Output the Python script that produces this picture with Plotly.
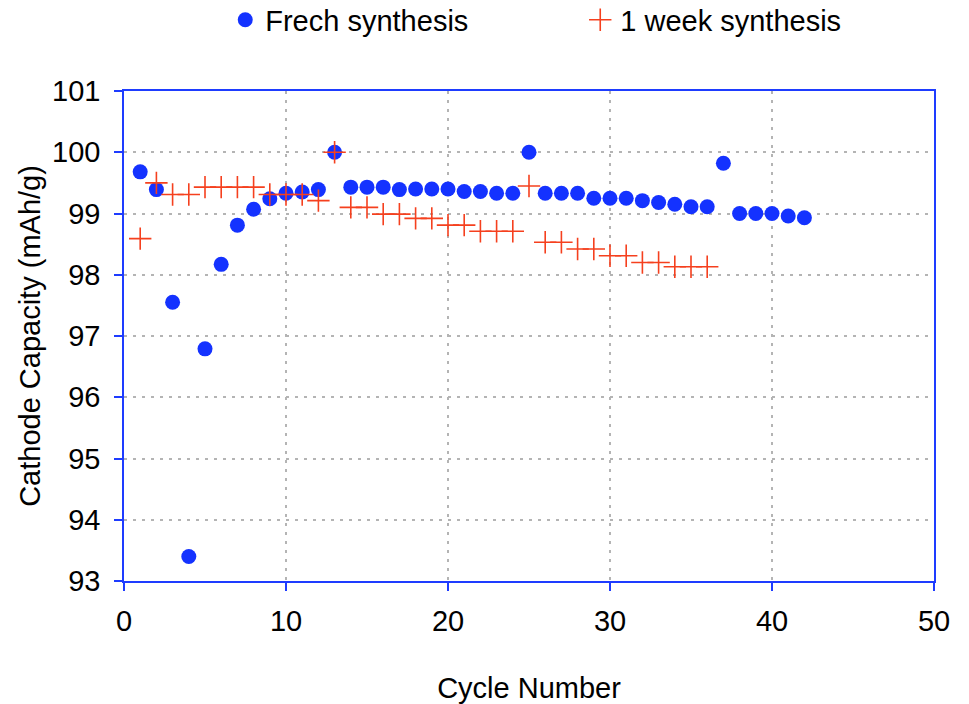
import plotly.graph_objects as go

cycles_fresh = list(range(1, 43))
fresh = [99.68, 99.39, 97.55, 93.40, 96.79, 98.17, 98.81, 99.07, 99.24, 99.33,
         99.35, 99.39, 100.0, 99.43, 99.43, 99.43, 99.39, 99.40, 99.40, 99.40,
         99.36, 99.36, 99.33, 99.33, 100.0, 99.33, 99.33, 99.33, 99.25, 99.25,
         99.25, 99.21, 99.18, 99.15, 99.11, 99.11, 99.82, 99.00, 99.00, 99.00,
         98.96, 98.93]

cycles_week = list(range(1, 37))
week = [98.59, 99.50, 99.31, 99.31, 99.43, 99.43, 99.43, 99.43, 99.31, 99.31,
        99.31, 99.21, 100.0, 99.10, 99.10, 98.99, 98.99, 98.92, 98.92, 98.81,
        98.81, 98.71, 98.71, 98.71, 99.45, 98.53, 98.53, 98.42, 98.42, 98.31,
        98.31, 98.20, 98.20, 98.13, 98.13, 98.13]

x_ticks = [0, 10, 20, 30, 40, 50]
y_ticks = [93, 94, 95, 96, 97, 98, 99, 100, 101]

FONT = "Liberation Sans, Arial, sans-serif"
FS = 29
AXIS_BLUE = "#1e3cff"

fig = go.Figure()
fig.add_trace(go.Scatter(
    x=cycles_fresh, y=fresh, mode="markers", name="Frech synthesis",
    marker=dict(symbol="circle", size=15, color="#1432ff", line=dict(width=0)),
))
fig.add_trace(go.Scatter(
    x=cycles_week, y=week, mode="markers", name="1 week synthesis",
    marker=dict(symbol="cross-thin", size=16, color="#f5401e",
                line=dict(width=1.6, color="#f5401e")),
))

axis_common = dict(
    showline=True, mirror=True, linecolor=AXIS_BLUE, linewidth=1.5,
    ticks="outside", ticklen=8, tickcolor=AXIS_BLUE, tickwidth=1.5,
    showgrid=True, gridcolor="#b4b4b4", gridwidth=1.5, griddash="3px,6px",
    zeroline=False, automargin=False,
    tickfont=dict(family=FONT, size=FS, color="black"),
)

fig.update_xaxes(
    range=[0, 50], tickmode="array", tickvals=x_ticks,
    title=dict(text="Cycle Number", font=dict(family=FONT, size=FS, color="black"), standoff=55),
    ticklabelstandoff=5,
    **axis_common,
)
fig.update_yaxes(
    range=[93, 101], tickmode="array", tickvals=y_ticks,
    title=dict(text="Cathode Capacity (mAh/g)", font=dict(family=FONT, size=FS, color="black"), standoff=3),
    ticklabelstandoff=8,
    **axis_common,
)

fig.update_layout(
    width=969, height=704,
    margin=dict(l=124, r=35, t=91, b=123, autoexpand=False),
    paper_bgcolor="white", plot_bgcolor="white",
    font=dict(family=FONT, size=FS, color="black"),
    showlegend=True,
    legend=dict(
        orientation="h", x=0.125, xanchor="left", y=1.145, yanchor="middle",
        font=dict(family=FONT, size=FS, color="black"),
        entrywidth=310, itemsizing="trace", bgcolor="rgba(0,0,0,0)",
    ),
)

fig.write_html("out.html", config={"displayModeBar": False},
               post_script="document.body.style.margin='0px';")
